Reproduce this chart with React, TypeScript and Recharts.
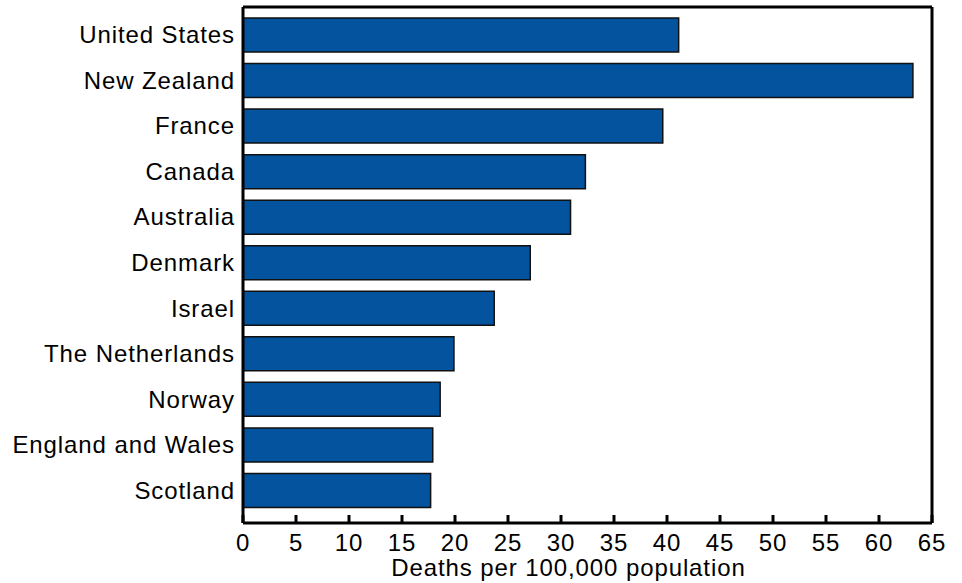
import { BarChart, Bar, XAxis, YAxis } from 'recharts';

const countries = [
  'United States',
  'New Zealand',
  'France',
  'Canada',
  'Australia',
  'Denmark',
  'Israel',
  'The Netherlands',
  'Norway',
  'England and Wales',
  'Scotland',
];

const deathRates = [41.1, 63.2, 39.6, 32.3, 30.9, 27.1, 23.7, 19.9, 18.6, 17.9, 17.7];

const xTicks = [0, 5, 10, 15, 20, 25, 30, 35, 40, 45, 50, 55, 60, 65];

const FONT = '"Liberation Sans", Arial, Helvetica, sans-serif';
const FONT_SIZE = 24;
const SPACING = 0.9;
const BAR_FILL = '#03539e';

const data = countries.map((name, i) => ({ name, rate: deathRates[i] }));

// ticks point inward (up) from the bottom axis, label sits below
function XTick(props: any) {
  const { x, y, payload } = props;
  return (
    <g>
      <line x1={x} x2={x} y1={y} y2={y - 8} stroke="#000" strokeWidth={3} />
      <text
        x={x}
        y={y + 28}
        textAnchor="middle"
        fill="#000"
        fontSize={FONT_SIZE}
        fontFamily={FONT}
        letterSpacing={SPACING}
      >
        {payload.value}
      </text>
    </g>
  );
}

function YTick(props: any) {
  const { x, y, payload } = props;
  return (
    <text
      x={x}
      y={y}
      dy="0.355em"
      textAnchor="end"
      fill="#000"
      fontSize={FONT_SIZE}
      fontFamily={FONT}
      letterSpacing={SPACING}
    >
      {payload.value}
    </text>
  );
}

export default function App() {
  return (
    <div style={{ width: 962, height: 583, fontFamily: FONT }}>
      <style>{`body { margin: 0; }`}</style>
      <BarChart
        width={962}
        height={583}
        data={data}
        layout="vertical"
        margin={{ top: 6, right: 29, bottom: 0, left: 0 }}
      >
        <XAxis
          type="number"
          domain={[0, 65]}
          ticks={xTicks}
          interval={0}
          height={60}
          stroke="#000"
          strokeWidth={3}
          tickLine={false}
          tickSize={0}
          tickMargin={0}
          tick={<XTick />}
          label={{
            value: 'Deaths per 100,000 population',
            position: 'insideBottom',
            offset: 7,
            dx: -19,
            fill: '#000',
            fontSize: FONT_SIZE,
            fontFamily: FONT,
            letterSpacing: SPACING,
          }}
        />
        <XAxis
          xAxisId="top"
          orientation="top"
          type="number"
          domain={[0, 65]}
          height={1}
          tick={false}
          tickLine={false}
          stroke="#000"
          strokeWidth={3}
        />
        <YAxis
          type="category"
          dataKey="name"
          width={243}
          padding={{ top: 5, bottom: 10 }}
          stroke="#000"
          strokeWidth={3}
          tickLine={false}
          tickSize={0}
          tickMargin={8}
          interval={0}
          tick={<YTick />}
        />
        <YAxis
          yAxisId="right"
          orientation="right"
          type="category"
          dataKey="name"
          width={1}
          tick={false}
          tickLine={false}
          stroke="#000"
          strokeWidth={3}
        />
        <Bar
          dataKey="rate"
          barSize={34}
          fill={BAR_FILL}
          stroke="#111"
          strokeWidth={1.5}
          isAnimationActive={false}
        />
      </BarChart>
    </div>
  );
}
